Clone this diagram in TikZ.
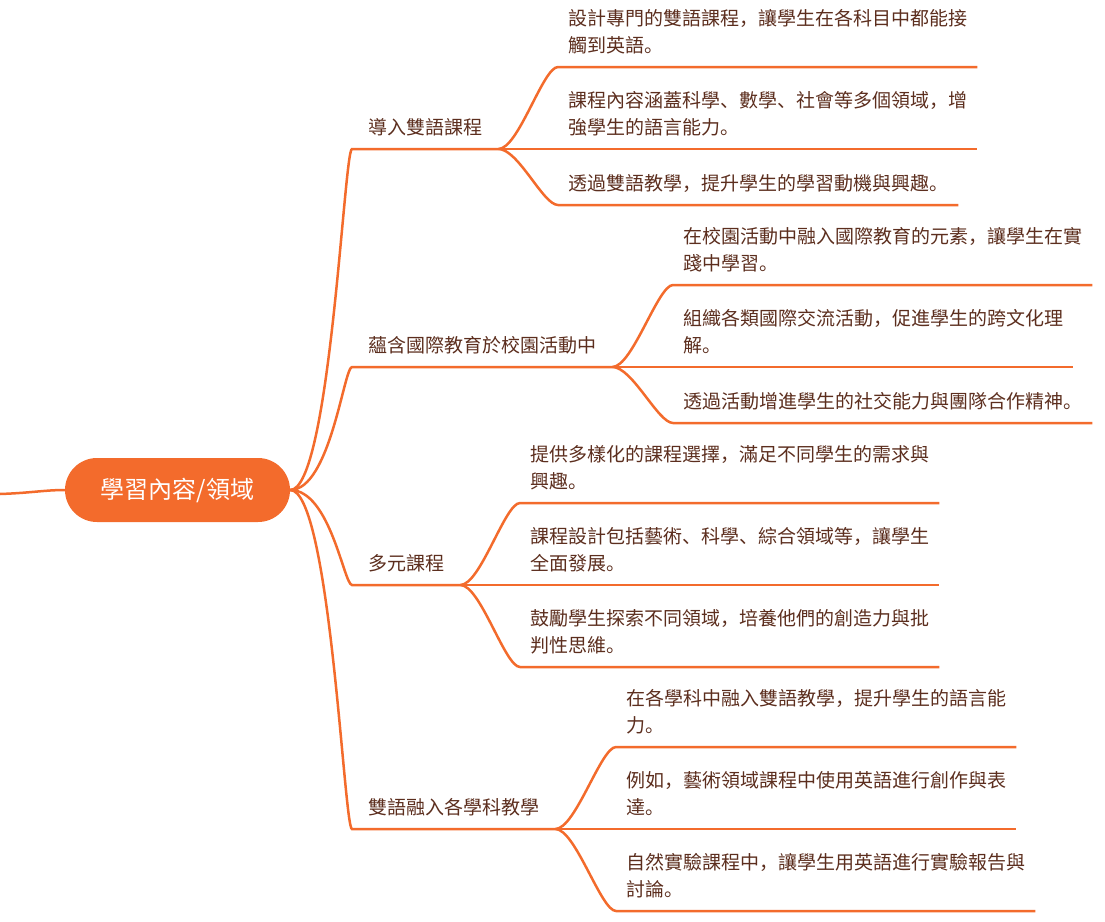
\documentclass[tikz,border=0pt]{standalone}
\usepackage{fontspec}
\setmainfont{Noto Sans CJK SC}
\definecolor{mapline}{RGB}{243,107,44}
\definecolor{maptext}{RGB}{92,46,30}
\tikzset{
  branchline/.style={draw=mapline,line width=2.5pt},
  root/.style={fill=mapline,text=white,rounded corners=32pt,minimum width=225pt,minimum height=64pt,font=\fontsize{24}{28}\selectfont},
  topic/.style={anchor=south west,text=maptext,inner xsep=16pt,inner ysep=9pt,text depth=5pt,font=\fontsize{19}{27}\selectfont},
  leaf/.style={topic,inner xsep=10pt,align=left},
}
\begin{document}
\begin{tikzpicture}[x=1pt,y=-1pt]
\useasboundingbox (0,0) rectangle (1105,921);
\node[root] (root) at (177.5,490) {學習內容/領域};
\coordinate (in) at (0,494);
\draw[branchline] (in) .. controls (30,493) and (45,490) .. (root.west);
% branches
\node[topic] (b1) at (352,149) {導入雙語課程};
\node[topic] (b2) at (352,367) {蘊含國際教育於校園活動中};
\node[topic] (b3) at (352,585) {多元課程};
\node[topic] (b4) at (352,829) {雙語融入各學科教學};
% leaves
\node[leaf] (l11) at (558,67) {設計專門的雙語課程，讓學生在各科目中都能接\\觸到英語。};
\node[leaf] (l12) at (558,149) {課程內容涵蓋科學、數學、社會等多個領域，增\\強學生的語言能力。};
\node[leaf] (l13) at (558,205) {透過雙語教學，提升學生的學習動機與興趣。};
\node[leaf] (l21) at (673,285) {在校園活動中融入國際教育的元素，讓學生在實\\踐中學習。};
\node[leaf] (l22) at (673,367) {組織各類國際交流活動，促進學生的跨文化理\\解。};
\node[leaf] (l23) at (673,423) {透過活動增進學生的社交能力與團隊合作精神。};
\node[leaf] (l31) at (520,503) {提供多樣化的課程選擇，滿足不同學生的需求與\\興趣。};
\node[leaf] (l32) at (520,585) {課程設計包括藝術、科學、綜合領域等，讓學生\\全面發展。};
\node[leaf] (l33) at (520,667) {鼓勵學生探索不同領域，培養他們的創造力與批\\判性思維。};
\node[leaf] (l41) at (616,747) {在各學科中融入雙語教學，提升學生的語言能\\力。};
\node[leaf] (l42) at (616,829) {例如，藝術領域課程中使用英語進行創作與表\\達。};
\node[leaf] (l43) at (616,911) {自然實驗課程中，讓學生用英語進行實驗報告與\\討論。};
\foreach \b in {b1,b2,b3,b4}
\draw[branchline] (root.east) .. controls +(40,0) and +(-8,0) .. (\b.south west) -- (\b.south east);
\foreach \b in {1,2,3,4}
\foreach \l in {1,2,3}
\draw[branchline] (b\b.south east) .. controls +(20,0) and +(-15,0) .. (l\b\l.south west) -- (l\b\l.south east);
\end{tikzpicture}
\end{document}
